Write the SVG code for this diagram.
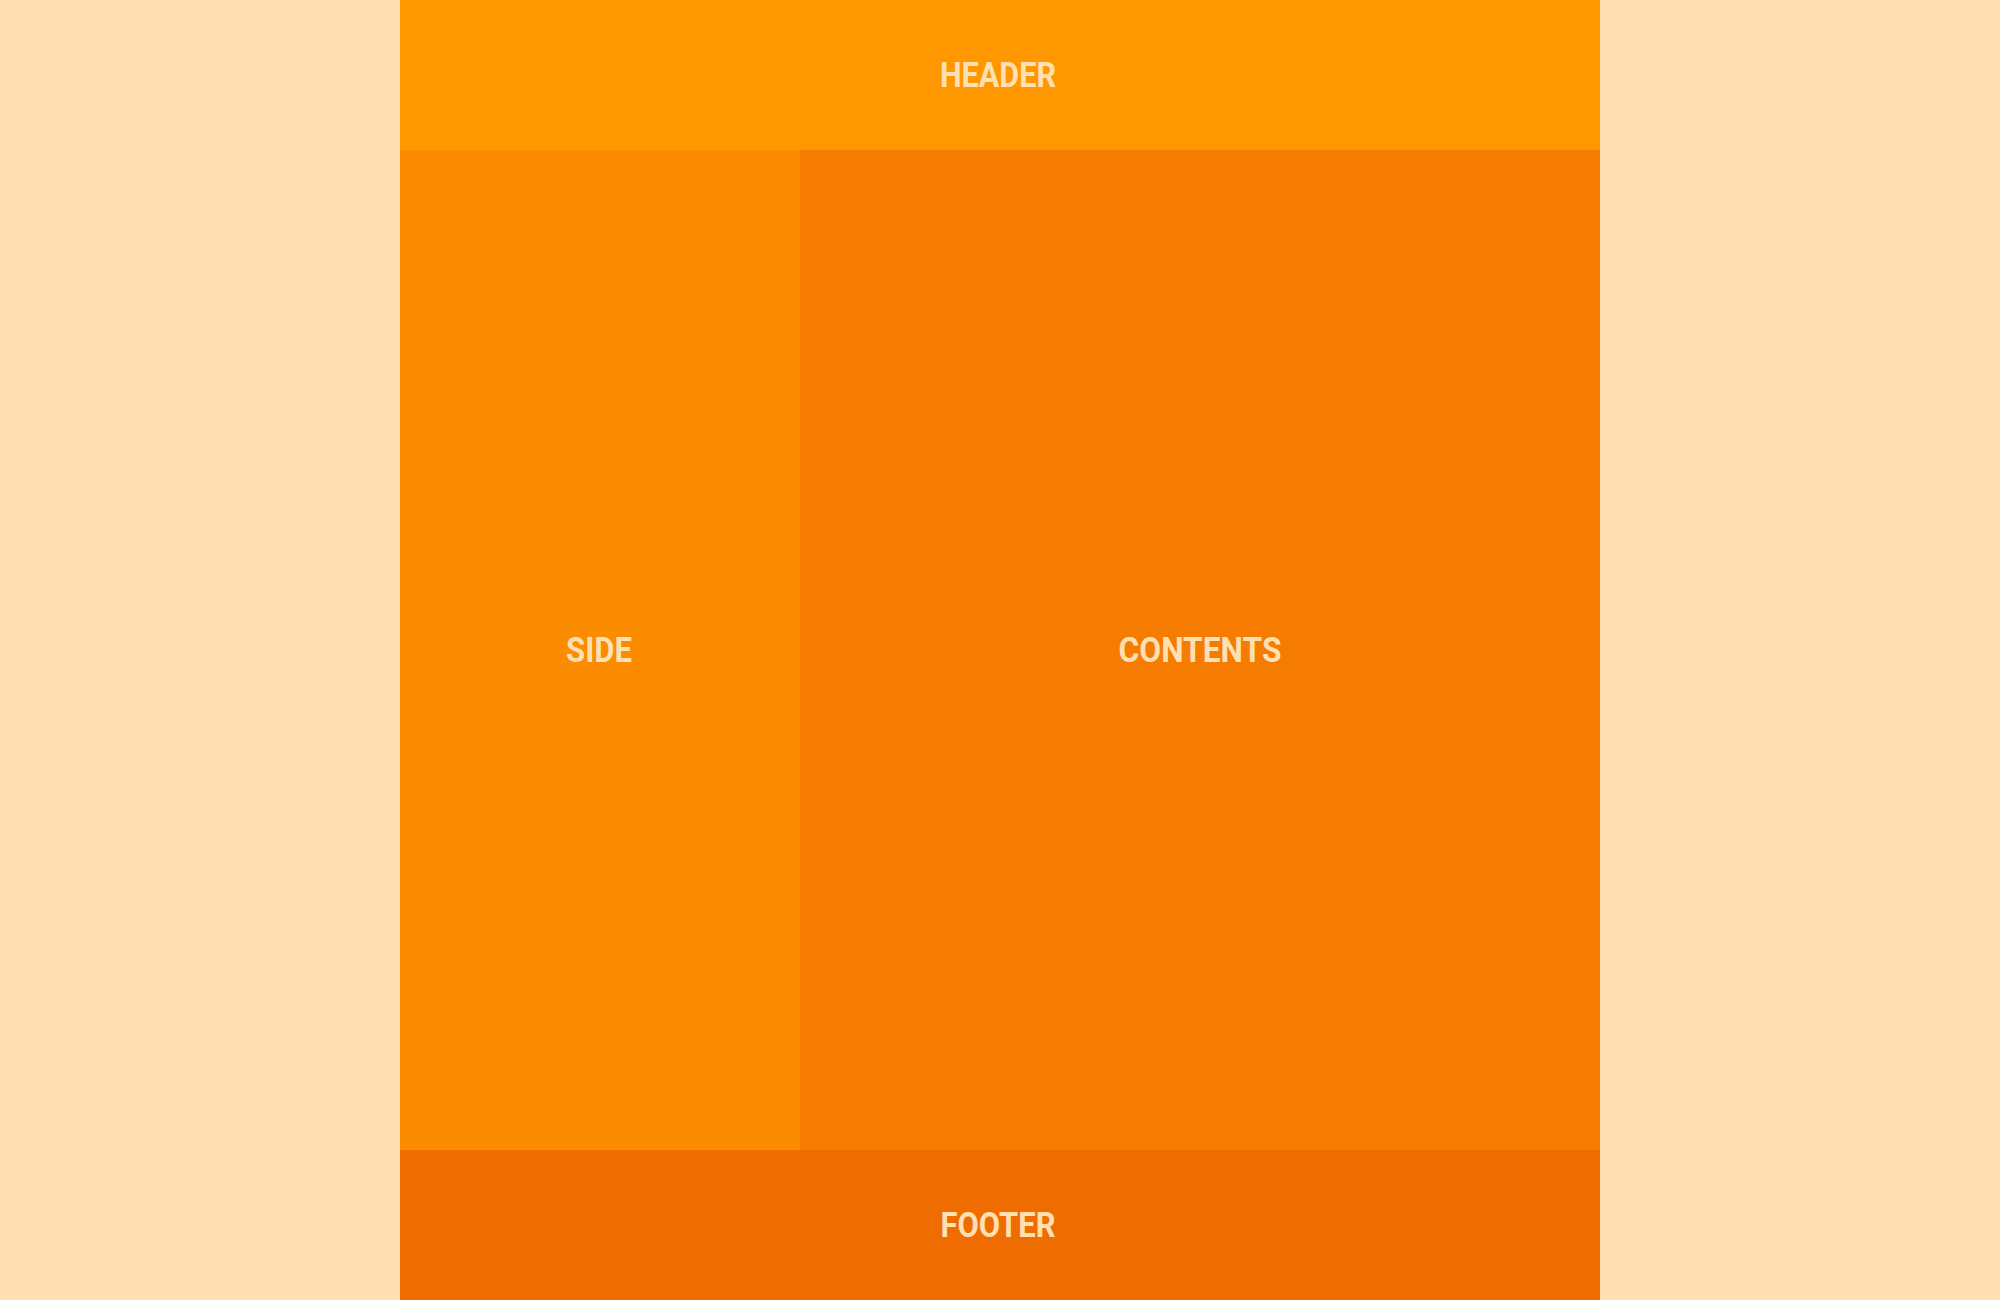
<svg xmlns="http://www.w3.org/2000/svg" width="2000" height="1300" viewBox="0 0 2000 1300">
<style>
.lbl{font-family:Roboto,"Liberation Sans",sans-serif;font-weight:700;font-size:35px;fill:#FFE0B2;text-anchor:middle;dominant-baseline:central}
</style>
<rect x="0" y="0" width="2000" height="1300" fill="#FFE0B2"/>
<g id="header"><rect x="400" y="0" width="1200" height="150" fill="#FF9800"/><text class="lbl" x="998" y="75" textLength="116" lengthAdjust="spacingAndGlyphs">HEADER</text></g>
<g id="side"><rect x="400" y="150" width="400" height="1000" fill="#FB8C00"/><text class="lbl" x="599" y="650" textLength="66" lengthAdjust="spacingAndGlyphs">SIDE</text></g>
<g id="contents"><rect x="800" y="150" width="800" height="1000" fill="#F57C00"/><text class="lbl" x="1200" y="650" textLength="163" lengthAdjust="spacingAndGlyphs">CONTENTS</text></g>
<g id="footer"><rect x="400" y="1150" width="1200" height="150" fill="#EF6C00"/><text class="lbl" x="998" y="1225" textLength="115" lengthAdjust="spacingAndGlyphs">FOOTER</text></g>
<g id="connectors"/>
</svg>
